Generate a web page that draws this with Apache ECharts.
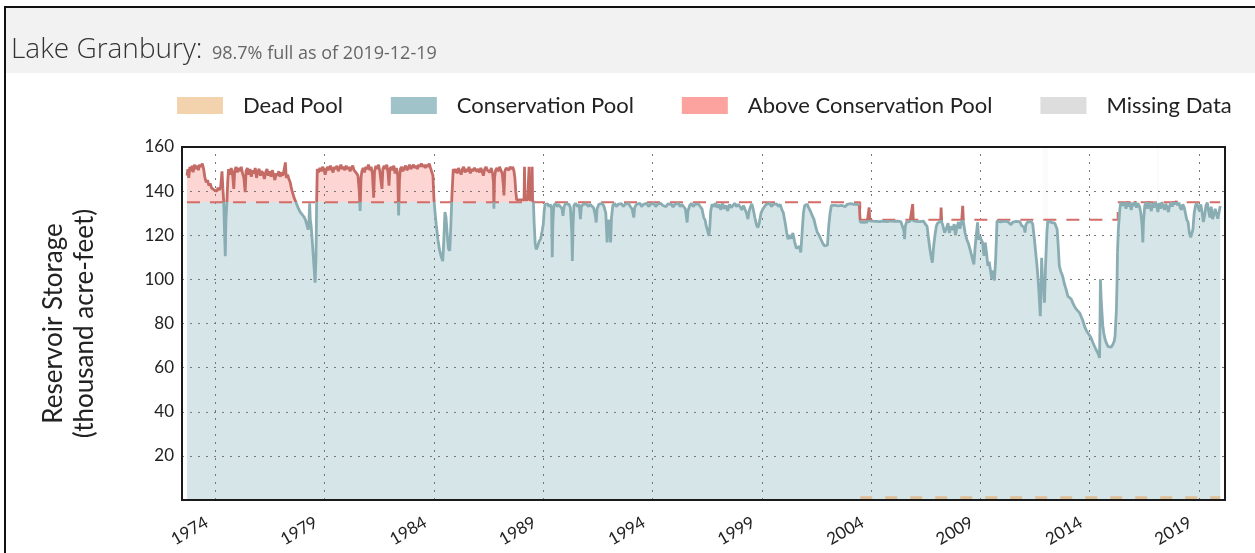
<!DOCTYPE html>
<html>
<head>
<meta charset="utf-8">
<script src="https://cdn.jsdelivr.net/npm/echarts@6.0.0/dist/echarts.min.js"></script>
<style>
html,body{margin:0;padding:0;background:#fff;}
#chart{width:1255px;height:553px;}
</style>
</head>
<body>
<div id="chart"></div>
<script>
// ---------------- DATA ----------------
const TITLE = 'Lake Granbury:';
const SUBTITLE = '98.7% full as of 2019-12-19';
const LEGEND_NAMES = ['Dead Pool', 'Conservation Pool', 'Above Conservation Pool', 'Missing Data'];
const TICK_YEARS = [1974, 1979, 1984, 1989, 1994, 1999, 2004, 2009, 2014, 2019];
const Y_TICKS_MAX = 160;

// conservation pool capacity (thousand acre-feet), step changes
const CONS_YEARS = [1972.70, 2003.50, 2015.28];
const CONS_VALUES = [135, 127, 135];

// dead pool
const DEAD_YEARS = [2003.50, 2019.97];
const DEAD_VALUES = [1.0, 1.0];

// missing data spans
const MISSING_START = [2011.86, 2017.05];
const MISSING_END = [2012.10, 2017.18];

// reservoir storage (thousand acre-feet)
const STORAGE_YEARS = [
1972.70,1972.74,1972.78,1972.83,1972.88,1972.93,1972.98,1973.04,1973.10,1973.16,1973.22,1973.28,1973.34,1973.40,1973.46,1973.52,1973.58,1973.64,1973.70,1973.76,1973.82,1973.88,1973.94,1974.00,1974.06,1974.12,1974.18,1974.24,1974.30,1974.34,1974.38,1974.42,1974.45,1974.48,1974.52,1974.56,1974.60,1974.66,1974.72,1974.78,1974.84,1974.88,1974.94,
1975.00,1975.06,1975.12,1975.18,1975.24,1975.30,1975.36,1975.40,1975.46,1975.52,1975.58,1975.64,1975.70,1975.76,1975.82,1975.88,1975.94,1976.00,1976.06,1976.12,1976.18,1976.24,1976.30,1976.36,1976.42,1976.48,1976.54,1976.60,1976.66,1976.72,1976.78,1976.84,1976.90,1976.96,
1977.02,1977.08,1977.14,1977.20,1977.24,1977.30,1977.36,1977.42,1977.48,1977.54,1977.60,1977.66,1977.72,1977.80,1977.88,1977.96,1978.04,1978.12,1978.20,1978.24,1978.28,1978.31,1978.34,1978.38,1978.44,1978.50,1978.56,1978.60,1978.63,1978.66,1978.72,1978.78,1978.84,1978.90,1978.96,
1979.02,1979.08,1979.14,1979.20,1979.26,1979.32,1979.38,1979.44,1979.50,1979.56,1979.62,1979.68,1979.74,1979.80,1979.86,1979.92,1979.98,1980.04,1980.10,1980.16,1980.22,1980.28,1980.34,1980.40,1980.46,1980.52,1980.58,1980.62,1980.66,1980.70,1980.76,1980.82,1980.88,1980.94,
1981.00,1981.06,1981.12,1981.18,1981.24,1981.28,1981.34,1981.40,1981.46,1981.52,1981.58,1981.62,1981.66,1981.72,1981.78,1981.84,1981.90,1981.94,1981.98,1982.04,1982.10,1982.16,1982.22,1982.28,1982.34,1982.38,1982.42,1982.46,1982.52,1982.58,1982.64,1982.70,1982.76,1982.82,1982.88,1982.94,
1983.00,1983.06,1983.12,1983.18,1983.24,1983.30,1983.36,1983.42,1983.48,1983.54,1983.60,1983.66,1983.72,1983.78,1983.84,1983.90,1983.95,1984.00,1984.05,1984.10,1984.18,1984.26,1984.34,1984.40,1984.45,1984.50,1984.55,1984.60,1984.66,1984.72,1984.76,1984.82,1984.88,1984.94,
1985.00,1985.06,1985.12,1985.18,1985.24,1985.30,1985.36,1985.42,1985.48,1985.54,1985.60,1985.66,1985.72,1985.78,1985.84,1985.90,1985.96,1986.02,1986.08,1986.14,1986.20,1986.26,1986.32,1986.38,1986.44,1986.50,1986.56,1986.62,1986.68,1986.72,1986.74,1986.77,1986.82,1986.88,1986.94,
1987.00,1987.06,1987.12,1987.18,1987.20,1987.24,1987.30,1987.36,1987.42,1987.48,1987.54,1987.60,1987.66,1987.70,1987.74,1987.78,1987.84,1987.90,1987.96,1988.02,1988.08,1988.12,1988.14,1988.16,1988.22,1988.28,1988.33,1988.35,1988.37,1988.42,1988.47,1988.49,1988.51,1988.55,
1988.58,1988.63,1988.68,1988.74,1988.80,1988.88,1988.95,1989.00,1989.04,1989.08,1989.14,1989.20,1989.26,1989.32,1989.38,1989.41,1989.44,1989.48,1989.56,1989.62,1989.70,1989.78,1989.86,1989.90,1989.95,
1990.02,1990.10,1990.18,1990.24,1990.30,1990.33,1990.36,1990.40,1990.48,1990.56,1990.64,1990.70,1990.74,1990.82,1990.90,1990.98,1991.06,1991.14,1991.22,1991.30,1991.38,1991.42,1991.46,1991.54,1991.62,1991.70,1991.78,1991.86,1991.92,1991.96,
1992.00,1992.04,1992.08,1992.12,1992.18,1992.26,1992.34,1992.42,1992.50,1992.58,1992.66,1992.74,1992.82,1992.90,1992.98,1993.06,1993.14,1993.18,1993.26,1993.34,1993.42,1993.50,1993.58,1993.66,1993.74,1993.82,1993.90,1993.98,
1994.06,1994.14,1994.22,1994.30,1994.38,1994.46,1994.54,1994.62,1994.70,1994.78,1994.86,1994.94,1995.02,1995.10,1995.18,1995.26,1995.34,1995.42,1995.50,1995.58,1995.62,1995.70,1995.78,1995.86,1995.94,
1996.02,1996.10,1996.18,1996.26,1996.34,1996.40,1996.46,1996.52,1996.58,1996.62,1996.66,1996.72,1996.80,1996.88,1996.96,1997.04,1997.12,1997.20,1997.28,1997.36,1997.44,1997.52,1997.60,1997.68,1997.76,1997.84,1997.92,
1998.00,1998.08,1998.16,1998.24,1998.30,1998.36,1998.42,1998.48,1998.54,1998.60,1998.68,1998.76,1998.82,1998.88,1998.96,1999.04,1999.12,1999.20,1999.28,1999.36,1999.44,1999.52,1999.60,1999.68,1999.76,1999.84,1999.92,1999.98,
2000.06,2000.14,2000.20,2000.26,2000.34,2000.42,2000.50,2000.58,2000.64,2000.72,2000.78,2000.84,2000.90,2000.96,2001.02,2001.08,2001.14,2001.22,2001.30,2001.38,2001.46,2001.54,2001.62,2001.70,2001.78,2001.86,2001.94,
2002.00,2002.06,2002.12,2002.18,2002.26,2002.34,2002.42,2002.50,2002.58,2002.66,2002.74,2002.82,2002.90,2002.98,2003.06,2003.14,2003.22,2003.30,2003.38,2003.46,
2003.50,2003.58,2003.66,2003.74,2003.82,2003.88,2003.91,2003.94,2004.00,2004.08,2004.16,2004.24,2004.32,2004.40,2004.48,2004.56,2004.64,2004.72,2004.80,2004.88,2004.96,
2005.04,2005.12,2005.20,2005.28,2005.36,2005.44,2005.50,2005.53,2005.56,2005.62,2005.70,2005.78,2005.86,2005.90,2005.93,2006.00,2006.08,2006.16,2006.24,2006.32,2006.40,2006.48,2006.56,2006.62,2006.70,2006.74,2006.80,2006.86,2006.92,2006.98,
2007.04,2007.12,2007.18,2007.20,2007.23,2007.28,2007.36,2007.44,2007.52,2007.58,2007.64,2007.72,2007.80,2007.86,2007.92,2008.00,2008.06,2008.14,2008.19,2008.22,2008.30,2008.38,2008.46,2008.54,2008.62,2008.70,2008.76,2008.82,2008.87,2008.92,2008.98,
2009.03,2009.10,2009.16,2009.22,2009.28,2009.34,2009.40,2009.46,2009.52,2009.58,2009.64,2009.70,2009.76,2009.84,2009.92,2010.00,2010.08,2010.16,2010.24,2010.32,2010.40,2010.48,2010.56,2010.64,2010.72,2010.80,2010.88,
2011.00,2011.04,2011.08,2011.16,2011.24,2011.32,2011.39,2011.47,2011.54,2011.59,2011.66,2011.74,2011.78,2011.80,2011.84,2011.88,2011.93,2011.98,2012.04,2012.08,2012.16,2012.24,2012.32,2012.40,2012.46,2012.51,2012.56,2012.61,2012.68,2012.76,2012.84,2012.92,
2013.00,2013.08,2013.16,2013.24,2013.30,2013.38,2013.46,2013.54,2013.61,2013.68,2013.76,2013.84,2013.91,2013.98,2014.06,2014.14,2014.22,2014.30,2014.37,2014.45,2014.47,2014.49,2014.52,2014.56,2014.60,2014.64,2014.70,2014.76,2014.84,2014.90,2014.98,
2015.06,2015.12,2015.16,2015.22,2015.25,2015.27,
2015.31,2015.35,2015.38,2015.42,2015.48,2015.54,2015.60,2015.66,2015.72,2015.78,2015.84,2015.90,2015.96,2016.02,2016.08,2016.14,2016.20,2016.28,2016.34,2016.40,2016.43,2016.46,2016.52,2016.58,2016.64,2016.70,2016.76,2016.82,2016.88,2016.94,
2017.00,2017.06,2017.12,2017.18,2017.24,2017.30,2017.36,2017.42,2017.48,2017.54,2017.60,2017.66,2017.72,2017.78,2017.84,2017.90,2017.96,2018.02,2018.08,2018.14,2018.20,2018.26,2018.32,2018.38,2018.44,2018.50,2018.56,2018.62,2018.66,2018.72,2018.78,2018.84,2018.90,2018.96,
2019.02,2019.08,2019.14,2019.20,2019.26,2019.32,2019.38,2019.44,2019.50,2019.56,2019.62,2019.68,2019.74,2019.80,2019.86,2019.92,2019.97
];
const STORAGE_VALUES = [
147,150,146,151,149,151.5,148.5,152,150,151.5,149.5,152,151,152.5,150,146,144,145,142.5,143.5,141.5,142,140.5,141,140,141.5,140.5,142,149,141,135,120,110.5,127,134,144,150,147.5,150.5,148,141,149,151,
148.5,150.5,149,151,148,146,139.5,149,150.5,147.5,150,146.5,149.5,148,150.5,146,149,150,147,149,148,145.5,148.5,150,147,149,146.5,149.5,147.5,145,148,147,149,146.5,
148.5,147,149.5,153,146,147.5,145.5,144,141,139,137,135.5,134,132,130.5,129.5,128.5,127,124,122.5,126,134.5,127,124,116,107,98.5,110,135,150,148.5,150.5,149,151,150,
147.5,150,151,149.5,151.5,150,148.5,151,150,151.5,149,150.5,152,150,151,149.5,151.5,150,151,149,150.5,151.5,149.5,150,148,147,140,131,146,149,150.5,148.5,151,150,
152,149.5,151,148,137,149,151.5,150,152,149,144,141,150,151.5,150,152,148,142.5,150,151,149.5,151.5,148,150.5,147,129,145,150,151,149,150.5,151.5,149.5,150.5,152,150,
151,152,150.5,151.5,150,152,151,152.5,151,152,150.5,152,151,152.5,150.5,151,147,136,130,125,118,113,110,108.3,118,130.5,128,121,114,113,122,138,150,148.5,
150,148,150.5,149,147.5,150,151,148.5,150,149,151,148,150,149,150.5,151,149,150,148.5,150.5,149,147,150,151,149.5,150,148.5,150.5,148,144,132,146,149.5,150.5,149,
151,149.5,148,142,138,149,150.5,151,149.5,151,150,151,149,146,140,136,135.5,136,135.8,136,135.5,136,151,136,135.6,136,135.5,151,136,135.6,136,151,136,134.5,
126,116,113.6,115,117,118.5,122,125,131,134,133.5,134.2,133,134,132,110,126,133.5,134.5,133,134,133.5,132,128.8,133,
134.3,133.5,134,132.5,122,108.3,124,133.5,134.5,133,134,127.3,133,134,133.5,134.2,133,134,133.5,132.5,129,125.8,132,134,133.5,134.5,133,130,116.7,124,
127,125,116.7,128,133.5,134.5,133,134,133.5,134.3,133,134,133.5,134.5,133,132,128,132.5,134,133.5,134.5,133,134,133.5,134.4,133,134,133.5,
134.5,133,134,133.2,134.5,133.5,134,133,134.2,133.5,134,132.8,134,133.5,134.5,133,134,133.2,132,125.8,131,133.5,134.5,133,134,
133.5,134.2,133,132,128,127,124,122,119.7,124,131,134,133,134.5,132.5,134,131.5,134.5,132,133.5,131,134,132.5,133.5,134.5,133,134,
133,131.5,133.5,134,130,127.3,131,133,134.2,132,128,124.5,123.5,125.5,130,131.8,133,134,133.5,134.5,133,134,133.5,134.2,133,134,131.5,130.3,
126,121,118.2,120,118.5,121,117,114,113.6,115,112.2,121,130,133.5,133.3,134,132.5,131,129,127.3,124,121.2,120,118.2,116.5,115.2,116,
115.5,124.2,130,133.5,134,133.5,134.2,133.3,134,133.5,134.2,133,134,133.5,134.3,133.5,134,133.2,134,133.5,
126,126.5,125.8,126.3,126,126.5,132.6,126.5,126,126.4,125.8,126.3,125.6,126.2,125.7,126.4,125.5,126.2,125.8,126.5,125.6,
126.3,125.8,126.4,125.5,126.2,125.7,122,118.2,124,126,125.5,126.3,126,134.1,126.5,125.8,126.3,125.5,126.2,125.8,126.4,125,124,119,113,110.6,107.6,115,120,124,
125.5,126,126.3,132.6,126,124.5,121.2,123,125.5,121,124,122.5,125,120,123.5,126,123,126.2,133.3,126,121,118,116,113,110,106.8,115,121,125.8,118,119.5,
118.2,116.7,110.6,116.7,112,106.1,108,104,100,104,99.5,110,126.5,126.8,126,125.8,126.4,125.6,126.2,125.5,124.8,126,125.4,126.3,125.8,126.2,124.5,
123.5,121.2,124.8,126,125.4,126.2,125.2,118.2,111,106.1,97,83.3,98,109.8,100,98.5,89.4,106,121,126.5,126,125.8,126.3,125.5,124,122.7,115,106.1,103.5,101.5,98,95.5,
92.4,93.2,91,89,87.9,86.5,85.6,84.8,84.1,81.5,78.8,77,75.8,74.8,73.5,71.5,69.7,68,66.7,64.4,80,100,92,85,79,75.8,73,71.2,69.5,69,69.3,
70.5,72,74.2,86,98.5,112,
122.7,128,131.8,134.8,135.3,133.5,134.8,132,135.2,133,134.5,131.5,134.8,133.2,135.4,132.5,134.5,133,130,124,116.7,126,133.5,134.8,132,135.3,133,131,134.5,132.5,
135.2,133.5,130.5,134.6,132,135,133.3,131.5,134.2,132.8,130.5,133.5,134.8,133,135.3,134,135.5,133.5,134.8,132.5,131.5,134,132.8,130,127,126,121,119,119.5,122.5,130,133.5,134.5,132.8,
131,134,130.5,126,129,133.5,134.8,131,128,133,127.3,129,132,130,127.5,130.5,133.3
];

// ---------------- STYLE ----------------
const FILL_BLUE = '#d5e5e8';
const FILL_PINK = '#fdd6d4';
const LINE_TEAL = '#89adb3';
const LINE_RED = '#c46b66';
const CONS_RED = '#d46c67';
const DEAD_TAN = '#dfbf98';
const LEGEND_COLORS = ['#f2d3ae', '#9fc3c9', '#fca3a0', '#dddddd'];
const FONT = 'Lato';

// ---------------- BUILD ----------------
function consAt(t) {
  let c = CONS_VALUES[0];
  for (let i = 0; i < CONS_YEARS.length; i++) if (t >= CONS_YEARS[i] - 1e-9) c = CONS_VALUES[i];
  return c;
}
// points belonging to one capacity period, plus neighbours so pieces join without gaps
function groupData(level, both) {
  const n = STORAGE_YEARS.length;
  return STORAGE_YEARS.map((t, i) => {
    const own = consAt(t) === level;
    const next = i + 1 < n && consAt(STORAGE_YEARS[i + 1]) === level;
    const prev = both && i > 0 && consAt(STORAGE_YEARS[i - 1]) === level;
    return [t, (own || next || prev) ? STORAGE_VALUES[i] : null];
  });
}
const levels = Array.from(new Set(CONS_VALUES));
const endYear = STORAGE_YEARS[STORAGE_YEARS.length - 1];
const consLine = CONS_YEARS.map((t, i) => [t, CONS_VALUES[i]]).concat([[endYear, CONS_VALUES[CONS_VALUES.length - 1]]]);
const deadLine = DEAD_YEARS.map((t, i) => [t, DEAD_VALUES[i]]);

const series = [];
const visualMap = [];
levels.forEach((lv) => {
  series.push({
    name: 'Conservation Pool', type: 'line', data: groupData(lv, true), showSymbol: false, silent: true,
    lineStyle: { width: 0 }, areaStyle: { opacity: 1 }, z: 1, animation: false
  });
  visualMap.push({ show: false, type: 'piecewise', seriesIndex: series.length - 1, dimension: 1,
    pieces: [{ gt: -1000, lte: lv, color: FILL_BLUE }, { gt: lv, lte: 1000, color: FILL_PINK }] });
});
series.push({
  name: 'Missing Data', type: 'line', data: [], z: 1, silent: true,
  markArea: { silent: true, itemStyle: { color: 'rgba(245,247,247,0.45)' },
    data: MISSING_START.map((s, i) => [{ xAxis: s }, { xAxis: MISSING_END[i] }]) }
});
series.push({ name: 'Above Conservation Pool', type: 'line', data: [] });
series.push({
  name: 'cons', type: 'line', data: consLine, step: 'end', showSymbol: false, silent: true, z: 3,
  lineStyle: { color: CONS_RED, width: 2, type: [13, 10] }, animation: false
});
series.push({
  name: 'Dead Pool', type: 'line', data: deadLine, showSymbol: false, silent: true, z: 3,
  lineStyle: { color: DEAD_TAN, width: 3, type: [12, 13] }, animation: false
});
levels.forEach((lv) => {
  series.push({
    name: 'storage', type: 'line', data: groupData(lv, false), showSymbol: false, silent: true, z: 4,
    lineStyle: { width: 2.8 }, animation: false
  });
  visualMap.push({ show: false, type: 'piecewise', seriesIndex: series.length - 1, dimension: 1,
    pieces: [{ gt: -1000, lte: lv, color: LINE_TEAL }, { gt: lv, lte: 1000, color: LINE_RED }] });
});

const chart = echarts.init(document.getElementById('chart'), null, { renderer: 'canvas' });
chart.setOption({
  backgroundColor: '#ffffff',
  animation: false,
  graphic: [
    { type: 'rect', z: 0, shape: { x: 6, y: 8, width: 1249, height: 65 }, style: { fill: '#f2f2f2' } },
    { type: 'rect', z: 1, shape: { x: 4, y: 6, width: 1251, height: 2 }, style: { fill: '#111' } },
    { type: 'rect', z: 1, shape: { x: 4, y: 6, width: 2, height: 547 }, style: { fill: '#111' } },
    { type: 'text', z: 2, x: 11, y: 50.5, style: { text: TITLE, fill: '#333', font: '300 28px "Open Sans"', verticalAlign: 'middle' } },
    { type: 'text', z: 2, x: 212, y: 53.5, style: { text: SUBTITLE, fill: '#666', font: '18px "Open Sans"', verticalAlign: 'middle' } }
  ],
  legend: {
    left: 177, top: 94.5, padding: 0, itemWidth: 46, itemHeight: 17, itemGap: 48, icon: 'rect', selectedMode: false,
    textStyle: { fontFamily: FONT, fontSize: 22, color: '#222', padding: [0, 0, 0, 15] },
    data: LEGEND_NAMES.map((n, i) => ({ name: n, itemStyle: { color: LEGEND_COLORS[i], borderWidth: 0 } }))
  },
  grid: { left: 182, right: 30, top: 147, bottom: 53, show: true, borderColor: '#1a1a1a', borderWidth: 2, backgroundColor: 'transparent', z: 5 },
  xAxis: {
    type: 'value', min: 1972.47, max: 2020.19, z: 2,
    axisLine: { show: false },
    splitLine: { show: false },
    axisTick: { show: true, customValues: TICK_YEARS, inside: true, length: 353, lineStyle: { color: '#777', width: 1, type: [2, 6] } },
    axisLabel: { customValues: TICK_YEARS, rotate: 30, margin: 16, padding: [0, 10, 0, 0], formatter: v => String(v), fontFamily: FONT, fontSize: 17, color: '#222' }
  },
  yAxis: {
    type: 'value', min: 0, max: Y_TICKS_MAX, interval: 20, z: 2,
    name: 'Reservoir Storage\n(thousand acre-feet)', nameLocation: 'middle', nameGap: 82,
    nameTextStyle: { fontFamily: FONT, fontSize: 26, lineHeight: 31, color: '#222' },
    axisLine: { show: false }, axisTick: { show: false },
    axisLabel: { margin: 8, formatter: v => (v === 0 ? '' : String(v)), fontFamily: FONT, fontSize: 17, color: '#222' },
    splitLine: { show: true, lineStyle: { color: '#777', width: 1, type: [2, 6] } }
  },
  visualMap,
  series
});
</script>
</body>
</html>
